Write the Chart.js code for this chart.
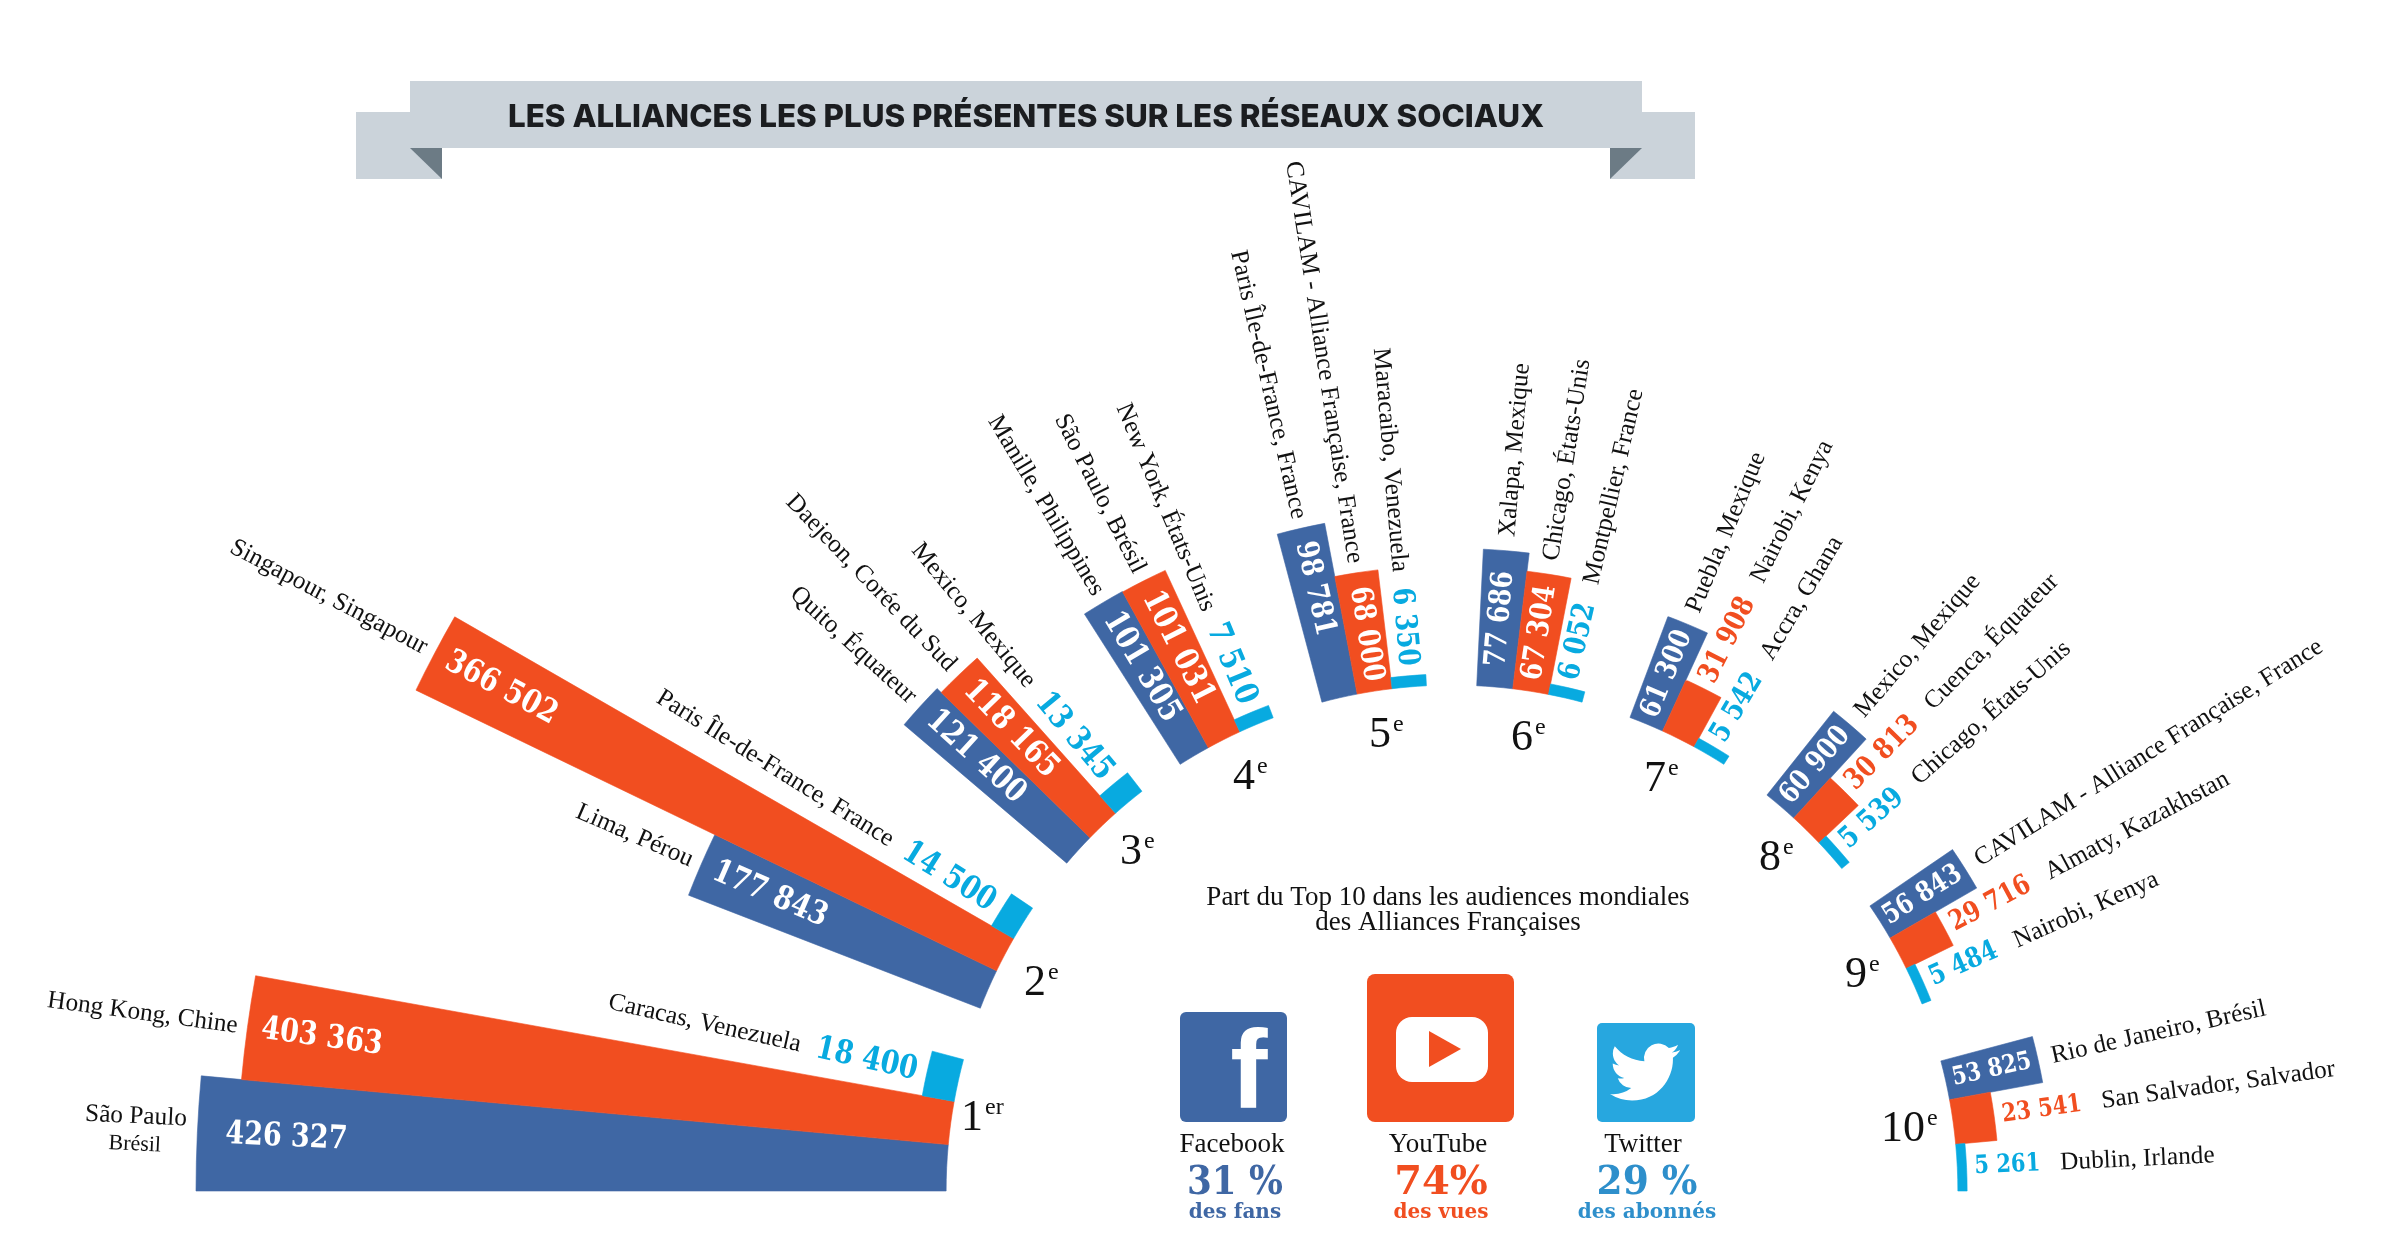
<!DOCTYPE html>
<html lang="fr">
<head>
<meta charset="utf-8">
<title>Les alliances les plus présentes sur les réseaux sociaux</title>
<script src="https://cdn.jsdelivr.net/npm/chart.js@4/dist/chart.umd.js"></script>
<style>
  html, body { margin: 0; height: 100%; background: #fff; overflow: hidden; }
  #eventail { position: absolute; left: -48px; top: -309px; }
</style>
</head>
<body>
<canvas id="eventail" width="3000" height="3000"></canvas>
<script>
// Données
const rangs = ['1', '2', '3', '4', '5', '6', '7', '8', '9', '10'];
const facebook = [426327, 177843, 121400, 101305, 98781, 77686, 61300, 60900, 56843, 53825];
const youtube = [403363, 366502, 118165, 101031, 68000, 67304, 31908, 30813, 29716, 23541];
const twitter = [18400, 14500, 13345, 7510, 6350, 6052, 5542, 5539, 5484, 5261];

const villesFacebook = ['São Paulo\nBrésil', 'Lima, Pérou', 'Quito, Équateur', 'Manille, Philippines',
  'Paris Île-de-France, France', 'Xalapa, Mexique', 'Puebla, Mexique', 'Mexico, Mexique',
  'CAVILAM - Alliance Française, France', 'Rio de Janeiro, Brésil'];
const villesYoutube = ['Hong Kong, Chine', 'Singapour, Singapour', 'Daejeon, Corée du Sud', 'São Paulo, Brésil',
  'CAVILAM - Alliance Française, France', 'Chicago, États-Unis', 'Nairobi, Kenya', 'Cuenca, Équateur',
  'Almaty, Kazakhstan', 'San Salvador, Salvador'];
const villesTwitter = ['Caracas, Venezuela', 'Paris Île-de-France, France', 'Mexico, Mexique', 'New York, États-Unis',
  'Maracaibo, Venezuela', 'Montpellier, France', 'Accra, Ghana', 'Chicago, États-Unis',
  'Nairobi, Kenya', 'Dublin, Irlande'];

// Mise en page de l'éventail : degrés de chaque barre, puis vide entre les groupes
const anglesBarres = [
  [5.26, 4.94, 4.86], [4.62, 4.13, 4.07], [3.9, 4, 3.9], [3.7, 4, 4.1], [4.1, 4, 3.9],
  [4.1, 4.1, 3.9], [4, 4, 3.9], [4, 4, 3.9], [4.3, 3.9, 4.4], [4.5, 5.1, 5.3]
];
const anglesVides = [6.12, 6.4, 5.3, 5.8, 5.7, 5.7, 6, 5.3, 6.8];
const taillesChiffres = [27, 27, 27, 27, 25, 25, 24, 24, 23, 21];
const posRangs = [[972, 1115], [1035, 980], [1131, 849], [1244, 774], [1380, 732],
  [1522, 735], [1655, 776], [1770, 855], [1856, 972], [1903, 1126]];

const BLEU = '#3F67A4', ORANGE = '#F14E20', CYAN = '#08AAE0';
const couleurs = [BLEU, ORANGE, CYAN];
const SERIF = '"Liberation Serif"', GRAS = '"DejaVu Serif"';

// Une tranche par barre, plus une tranche vide à valeur 0 entre deux groupes
const valeurs = [], anglesTranches = [], couleursTranches = [], etiquettes = [];
rangs.forEach((rang, g) => {
  [facebook, youtube, twitter].forEach((serie, s) => {
    valeurs.push(serie[g]);
    anglesTranches.push(anglesBarres[g][s]);
    couleursTranches.push(couleurs[s]);
    etiquettes.push(rang + '-' + s);
  });
  if (g < anglesVides.length) {
    valeurs.push(0);
    anglesTranches.push(anglesVides[g]);
    couleursTranches.push('transparent');
    etiquettes.push('');
  }
});

const fmt = v => String(v).replace(/\B(?=(\d{3})+$)/g, ' ');

function texte(ctx, t, x, y, font, color, align, maxW) {
  ctx.font = font;
  ctx.fillStyle = color;
  ctx.textAlign = align || 'center';
  ctx.textBaseline = 'alphabetic';
  if (maxW) ctx.fillText(t, x, y, maxW);
  else ctx.fillText(t, x, y);
}

// Texte posé sur un rayon : theta mesuré depuis la gauche, sens horaire
function texteRayon(ctx, scale, t, theta, r, font, color, align, decal, maxW) {
  const x = scale.xCenter - r * Math.cos(theta);
  const y = scale.yCenter - r * Math.sin(theta);
  ctx.save();
  ctx.translate(x, y);
  ctx.rotate(theta <= Math.PI / 2 ? theta : theta + Math.PI);
  ctx.font = font;
  ctx.fillStyle = color;
  ctx.textAlign = align;
  ctx.textBaseline = 'middle';
  if (maxW) ctx.fillText(t, 0, decal || 0, maxW);
  else ctx.fillText(t, 0, decal || 0);
  ctx.restore();
}

function etiquettesBarres(ctx, chart) {
  const scale = chart.scales.r;
  const arcs = chart.getDatasetMeta(0).data;
  const r0 = scale.getDistanceFromCenterForValue(0);
  const fontVille = '25.3px ' + SERIF;
  rangs.forEach((rang, g) => {
    [[facebook, villesFacebook], [youtube, villesYoutube], [twitter, villesTwitter]].forEach(([serie, villes], s) => {
      const arc = arcs[g * 4 + s];
      const theta = (arc.startAngle + arc.endAngle) / 2 - Math.PI;
      const gauche = theta <= Math.PI / 2;
      const ext = arc.outerRadius;
      const v = serie[g];
      const dedans = v > 50000;
      // chiffres hauts et serrés : police plus grande, largeur limitée
      ctx.font = 'bold ' + taillesChiffres[g] + 'px ' + GRAS;
      const w = ctx.measureText(fmt(v)).width;
      const fontVal = 'bold ' + (taillesChiffres[g] * 1.2) + 'px ' + GRAS;
      let rVille;
      if (gauche) {
        if (dedans) {
          const marge = v > 420000 ? 28 : 14;
          texteRayon(ctx, scale, fmt(v), theta, ext - marge, fontVal, '#fff', 'left', 0, w);
          rVille = ext + 10;
        } else {
          texteRayon(ctx, scale, fmt(v), theta, ext + 10, fontVal, couleurs[s], 'right', 0, w);
          rVille = ext + 10 + w + 16;
        }
      } else if (dedans) {
        texteRayon(ctx, scale, fmt(v), theta, (r0 + ext) / 2, fontVal, '#fff', 'center', 0, w);
        rVille = ext + 14;
      } else {
        texteRayon(ctx, scale, fmt(v), theta, ext + 8, fontVal, couleurs[s], 'left', 0, w);
        rVille = ext + 8 + w + 20;
      }
      const lignes = villes[g].split('\n');
      if (lignes.length > 1) {
        // São Paulo est sur deux lignes, centrée
        texteRayon(ctx, scale, lignes[0], theta, ext + 62, fontVille, '#111', 'center', -14);
        texteRayon(ctx, scale, lignes[1], theta, ext + 62, '22px ' + SERIF, '#111', 'center', 14);
      } else {
        texteRayon(ctx, scale, lignes[0], theta, rVille, fontVille, '#111', gauche ? 'right' : 'left');
      }
    });
  });
}

function textesRangs(ctx) {
  rangs.forEach((rang, g) => {
    const [x, y] = posRangs[g];
    const yBase = y + 15;
    ctx.font = '44px ' + SERIF;
    const wr = ctx.measureText(rang).width;
    texte(ctx, rang, x, yBase, '44px ' + SERIF, '#111', 'center');
    texte(ctx, g === 0 ? 'er' : 'e', x + wr / 2 + 2, yBase - 16, '24px ' + SERIF, '#111', 'left');
  });
}

function banniere(ctx) {
  ctx.fillStyle = '#CBD3DA';
  ctx.fillRect(356, 112, 86, 67);
  ctx.fillRect(1610, 112, 85, 67);
  ctx.fillRect(410, 81, 1232, 67);
  ctx.fillStyle = '#6C7B85';
  ctx.beginPath();
  ctx.moveTo(410, 148); ctx.lineTo(442, 148); ctx.lineTo(442, 179);
  ctx.closePath(); ctx.fill();
  ctx.beginPath();
  ctx.moveTo(1642, 148); ctx.lineTo(1610, 148); ctx.lineTo(1610, 179);
  ctx.closePath(); ctx.fill();
  texte(ctx, 'LES ALLIANCES LES PLUS PRÉSENTES SUR LES RÉSEAUX SOCIAUX', 1026, 127,
    '800 31.4px Inter', '#1B1D20', 'center', 1036);
}

function carre(ctx, x, y, w, h, r, color) {
  ctx.fillStyle = color;
  ctx.beginPath();
  ctx.roundRect(x, y, w, h, r);
  ctx.fill();
}

function legende(ctx) {
  texte(ctx, 'Part du Top 10 dans les audiences mondiales', 1448, 905, '27px ' + SERIF, '#111');
  texte(ctx, 'des Alliances Françaises', 1448, 930, '27px ' + SERIF, '#111');

  carre(ctx, 1180, 1012, 107, 110, 6, BLEU);
  texte(ctx, 'f', 1249, 1108, 'bold 112px "Liberation Sans"', '#fff');

  carre(ctx, 1367, 974, 147, 148, 8, ORANGE);
  carre(ctx, 1396, 1017, 92, 65, 16, '#fff');
  ctx.fillStyle = ORANGE;
  ctx.beginPath();
  ctx.moveTo(1429, 1031); ctx.lineTo(1429, 1067); ctx.lineTo(1461, 1049);
  ctx.closePath(); ctx.fill();

  carre(ctx, 1597, 1023, 98, 99, 5, '#27A7DF');
  const oiseau = new Path2D('M23.953 4.57a10 10 0 01-2.825.775 4.958 4.958 0 002.163-2.723c-.951.555-2.005.959-3.127 1.184a4.92 4.92 0 00-8.384 4.482C7.69 8.095 4.067 6.13 1.64 3.162a4.822 4.822 0 00-.666 2.475c0 1.71.87 3.213 2.188 4.096a4.904 4.904 0 01-2.228-.616v.06a4.923 4.923 0 003.946 4.827 4.996 4.996 0 01-2.212.085 4.936 4.936 0 004.604 3.417 9.867 9.867 0 01-6.102 2.105c-.39 0-.779-.023-1.17-.067a13.995 13.995 0 007.557 2.209c9.053 0 13.998-7.496 13.998-13.985 0-.21 0-.42-.015-.63A9.935 9.935 0 0024 4.59z');
  ctx.save();
  ctx.translate(1610, 1037);
  ctx.scale(2.92, 2.92);
  ctx.fillStyle = '#fff';
  ctx.fill(oiseau);
  ctx.restore();

  [['Facebook', '31 %', 'des fans', 1232, 1235, BLEU, 96],
   ['YouTube', '74%', 'des vues', 1438, 1441, ORANGE, 95],
   ['Twitter', '29 %', 'des abonnés', 1643, 1647, '#2E8FCB', 101]].forEach(([nom, part, unite, xn, xp, c, wp]) => {
    texte(ctx, nom, xn, 1152, '27px ' + SERIF, '#111');
    texte(ctx, part, xp, 1194, 'bold 40px ' + GRAS, c, 'center', wp);
    texte(ctx, unite, xp, 1218, 'bold 20px ' + GRAS, c);
  });
}

// La valeur 0 correspond au bord intérieur de l'éventail
const creuxEventail = {
  id: 'creuxEventail',
  afterDatasetsUpdate(chart) {
    const r0 = chart.scales.r.getDistanceFromCenterForValue(0);
    chart.getDatasetMeta(0).data.forEach(arc => { arc.innerRadius = r0; });
  }
};

const textesEventail = {
  id: 'textesEventail',
  afterDatasetsDraw(chart) {
    const ctx = chart.ctx;
    ctx.save();
    ctx.translate(48, 309); // repère de la page
    banniere(ctx);
    textesRangs(ctx);
    legende(ctx);
    ctx.restore();
    etiquettesBarres(ctx, chart);
  }
};

new Chart(document.getElementById('eventail'), {
  type: 'polarArea',
  data: {
    labels: etiquettes,
    datasets: [{
      data: valeurs,
      backgroundColor: couleursTranches,
      borderColor: couleursTranches,
      borderWidth: 0.6,
      angle: ctx => anglesTranches[ctx.dataIndex]
    }]
  },
  options: {
    responsive: false,
    devicePixelRatio: 1,
    animation: false,
    layout: { padding: 0 },
    scales: {
      r: {
        display: false,
        startAngle: 270,
        min: -287500,
        max: 565000,
        grid: { display: false },
        ticks: { display: false }
      }
    },
    plugins: { legend: { display: false }, tooltip: { enabled: false } }
  },
  plugins: [creuxEventail, textesEventail]
});
</script>
</body>
</html>
